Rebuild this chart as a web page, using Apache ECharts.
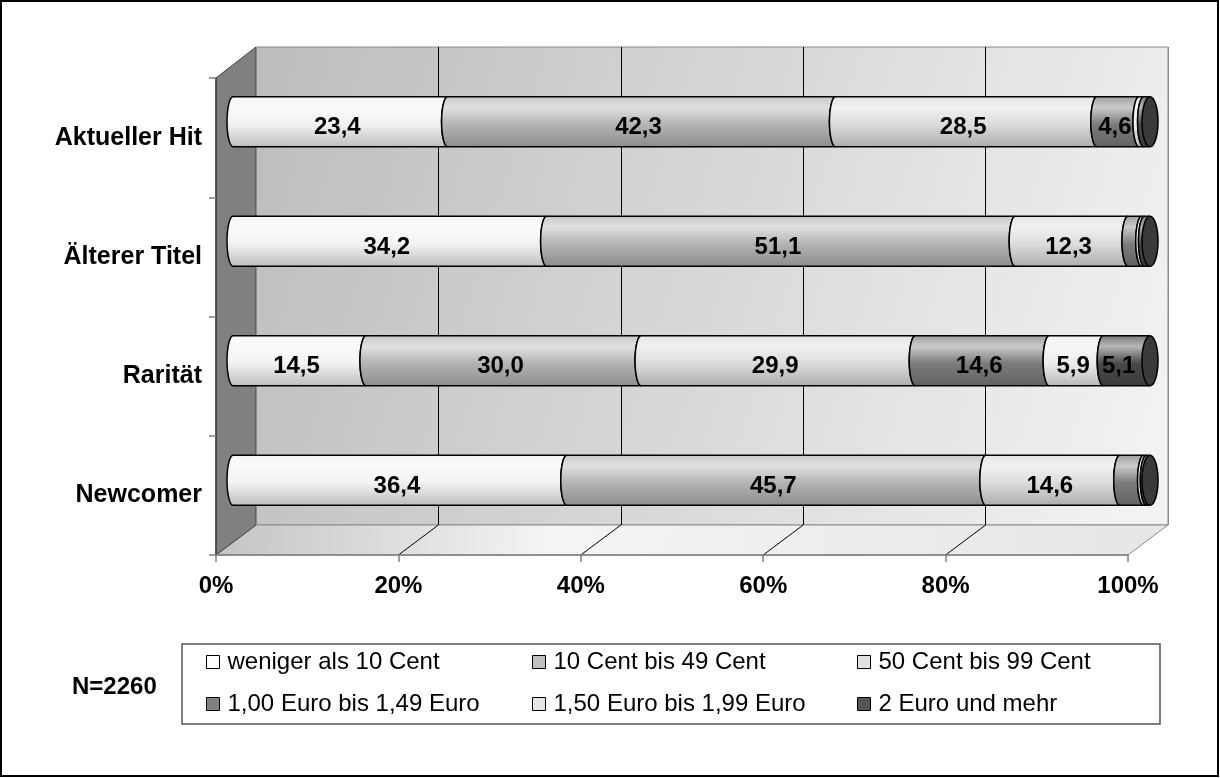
<!DOCTYPE html>
<html>
<head>
<meta charset="utf-8">
<title>Zahlungsbereitschaft je Titel</title>
<script src="https://cdn.jsdelivr.net/npm/echarts@6/dist/echarts.min.js"></script>
<style>
html, body { margin: 0; padding: 0; background: #fff; }
#chart { width: 1220px; height: 778px; }
</style>
</head>
<body>
<div id="chart"></div>
<script>
// categories (top to bottom) and price classes
const categories = ['Aktueller Hit', 'Älterer Titel', 'Rarität', 'Newcomer']
const priceClasses = [
  'weniger als 10 Cent', '10 Cent bis 49 Cent', '50 Cent bis 99 Cent',
  '1,00 Euro bis 1,49 Euro', '1,50 Euro bis 1,99 Euro', '2 Euro und mehr'
]

// shares in percent, one value per category
const under10Cent = [23.4, 34.2, 14.5, 36.4]
const cent10to49 = [42.3, 51.1, 30.0, 45.7]
const cent50to99 = [28.5, 12.3, 29.9, 14.6]
const euro100to149 = [4.6, 1.5, 14.6, 2.6]
const euro150to199 = [0.5, 0.3, 5.9, 0.3]
const euro2plus = [0.7, 0.6, 5.1, 0.4]

const xTicks = [0, 20, 40, 60, 80, 100]
const sampleNote = 'N=2260'

const seriesValues = [under10Cent, cent10to49, cent50to99, euro100to149, euro150to199, euro2plus]
const barColors = ['#f2f2f2', '#b4b4b4', '#dcdcdc', '#7c7c7c', '#ececec', '#4a4a4a']
const legendColors = ['#ffffff', '#c0c0c0', '#e0e0e0', '#808080', '#e6e6e6', '#555555']

const FONT = '"Liberation Sans", Arial, sans-serif'
const W = 1220
const H = 778
// 3d box
const box = { fl: 216, fr: 1128, ft: 78, fb: 555, bl: 256, br: 1168, bt: 47, bb: 525 }
const BAR_H = 50
const RX = 6

function mix(hex, target, t) {
  const a = parseInt(hex.slice(1), 16)
  const r = (a >> 16) & 255, g = (a >> 8) & 255, b = a & 255
  const m = c => Math.round(c + (target - c) * t)
  return 'rgb(' + m(r) + ',' + m(g) + ',' + m(b) + ')'
}

function cylinder(hex) {
  return new echarts.graphic.LinearGradient(0, 0, 0, 1, [
    { offset: 0, color: mix(hex, 255, 0.25) },
    { offset: 0.22, color: mix(hex, 255, 0.6) },
    { offset: 0.55, color: hex },
    { offset: 1, color: mix(hex, 0, 0.22) }
  ])
}

// cumulative starts for the stacked segments
const starts = seriesValues.map((vals, s) =>
  vals.map((v, i) => seriesValues.slice(0, s).reduce((acc, arr) => acc + arr[i], 0)))

function renderSegment(params, api) {
  const s = params.seriesIndex
  const cat = api.value(0)
  const x0 = api.coord([api.value(1), cat])[0]
  const x1 = api.coord([api.value(2), cat])[0]
  const cy = api.coord([0, cat])[1]
  const val = api.value(3)
  const top = cy - BAR_H / 2
  const bot = cy + BAR_H / 2
  const ry = BAR_H / 2
  const d = 'M' + x0 + ',' + top + 'L' + x1 + ',' + top +
    'A' + RX + ',' + ry + ',0,0,0,' + x1 + ',' + bot +
    'L' + x0 + ',' + bot +
    'A' + RX + ',' + ry + ',0,0,1,' + x0 + ',' + top + 'Z'
  const children = [{
    type: 'path',
    shape: { pathData: d },
    style: { fill: cylinder(barColors[s]), stroke: '#000', lineWidth: 1.5 }
  }]
  if (s === seriesValues.length - 1) {
    children.push({
      type: 'ellipse',
      shape: { cx: x1, cy: cy, rx: RX + 2, ry: ry },
      style: { fill: '#3a3a3a', stroke: '#000', lineWidth: 1.5 }
    })
  }
  if (val >= 4) {
    const tx = (x0 + x1) / 2 - (s === seriesValues.length - 1 ? RX + 2 : RX / 2)
    children.push({
      type: 'text',
      style: {
        text: val.toFixed(1).replace('.', ','),
        x: tx, y: cy + 6,
        align: 'center', verticalAlign: 'middle',
        textAlign: 'center', textVerticalAlign: 'middle',
        font: 'bold 24px ' + FONT,
        fill: '#000'
      }
    })
  }
  return { type: 'group', children: children }
}

const chart = echarts.init(document.getElementById('chart'))

const legendCols = [206, 532, 857]
const legendRows = [650, 692]

const option = {
  animation: false,
  backgroundColor: '#fff',
  title: {
    text: sampleNote,
    left: 67,
    top: 670,
    textStyle: { fontFamily: FONT, fontSize: 24, fontWeight: 'bold', color: '#000' }
  },
  legend: priceClasses.map((name, i) => ({
    data: [name],
    left: legendCols[i % 3],
    top: legendRows[Math.floor(i / 3)],
    icon: 'rect',
    itemWidth: 13,
    itemHeight: 13,
    padding: 0,
    selectedMode: false,
    itemStyle: { borderColor: '#000', borderWidth: 1 },
    textStyle: { fontFamily: FONT, fontSize: 24, color: '#000', padding: [0, 0, 0, 3] }
  })),
  grid: [
    // back wall
    { left: box.bl, right: W - box.br, top: box.bt, bottom: H - box.bb },
    // bars
    { left: 233, right: 70, top: 62, bottom: 238 },
    // front axes
    { left: box.fl, right: W - box.fr, top: box.ft, bottom: H - box.fb }
  ],
  xAxis: [
    {
      gridIndex: 0, type: 'value', min: 0, max: 100, interval: 20,
      axisLine: { show: false }, axisTick: { show: false }, axisLabel: { show: false },
      splitLine: { show: true, lineStyle: { color: ['#8a8a8a', '#000', '#000', '#000', '#000', '#8a8a8a'], width: 1 } }
    },
    {
      gridIndex: 1, type: 'value', min: 0, max: 100, show: false
    },
    {
      gridIndex: 2, type: 'value', min: 0, max: 100, interval: 20,
      axisLine: { show: true, lineStyle: { color: '#808080', width: 1.5 } },
      axisTick: { show: true, length: 7, lineStyle: { color: '#808080', width: 1.5 } },
      axisLabel: {
        margin: 19, formatter: '{value}%',
        fontFamily: FONT, fontSize: 24, fontWeight: 'bold', color: '#000'
      },
      splitLine: { show: false }
    }
  ],
  yAxis: [
    { gridIndex: 0, type: 'category', data: categories, inverse: true, show: false },
    { gridIndex: 1, type: 'category', data: categories, inverse: true, show: false },
    {
      gridIndex: 2, type: 'category', data: categories, inverse: true,
      axisLine: { show: true, lineStyle: { color: '#404040', width: 1.5 } },
      axisTick: { show: true, length: 7, lineStyle: { color: '#808080', width: 1.5 } },
      axisLabel: { margin: 14, fontFamily: FONT, fontSize: 25, fontWeight: 'bold', color: '#000' },
      splitLine: { show: false }
    }
  ],
  series: priceClasses.map((name, s) => ({
    name: name,
    type: 'custom',
    xAxisIndex: 1,
    yAxisIndex: 1,
    itemStyle: { color: legendColors[s] },
    renderItem: renderSegment,
    encode: { x: [1, 2], y: 0 },
    data: categories.map((c, i) => [i, starts[s][i], starts[s][i] + seriesValues[s][i], seriesValues[s][i]])
  }))
}

chart.setOption(option)

// 3d box decoration: walls, floor and the floor lines running to the ticks
const backX = xTicks.map(v => chart.convertToPixel({ xAxisIndex: 0 }, v))
const frontX = xTicks.map(v => chart.convertToPixel({ xAxisIndex: 2 }, v))

const floorLines = xTicks.slice(1, -1).map((v, k) => ({
  type: 'line',
  z: -8,
  shape: { x1: frontX[k + 1], y1: box.fb, x2: backX[k + 1], y2: box.bb },
  style: { stroke: '#000', lineWidth: 1 }
}))

chart.setOption({
  graphic: [
    {
      type: 'rect', z: -10,
      shape: { x: box.bl, y: box.bt, width: box.br - box.bl, height: box.bb - box.bt },
      style: {
        fill: new echarts.graphic.LinearGradient(0, 0.1, 1, 0.7, [
          { offset: 0, color: '#bdbdbd' },
          { offset: 1, color: '#f2f2f2' }
        ]),
        stroke: '#8a8a8a', lineWidth: 1
      }
    },
    {
      type: 'polygon', z: -9,
      shape: { points: [[box.fl, box.fb], [box.bl, box.bb], [box.br, box.bb], [box.fr, box.fb]] },
      style: {
        fill: new echarts.graphic.LinearGradient(0, 0, 1, 1, [
          { offset: 0, color: '#c4c4c4' },
          { offset: 0.35, color: '#f4f4f4' },
          { offset: 1, color: '#e6e6e6' }
        ]),
        stroke: '#8a8a8a', lineWidth: 1
      }
    },
    {
      type: 'polygon', z: -9,
      shape: { points: [[box.fl, box.ft], [box.bl, box.bt], [box.bl, box.bb], [box.fl, box.fb]] },
      style: { fill: '#808080', stroke: '#404040', lineWidth: 1 }
    },
    ...floorLines,
    {
      type: 'rect', z: -10,
      shape: { x: 182, y: 644, width: 978, height: 80 },
      style: { fill: '#fff', stroke: '#555', lineWidth: 1.5 }
    },
    {
      type: 'rect', z: 100,
      shape: { x: 1, y: 1, width: W - 3, height: H - 3 },
      style: { fill: null, stroke: '#000', lineWidth: 2 }
    }
  ]
})
</script>
</body>
</html>
